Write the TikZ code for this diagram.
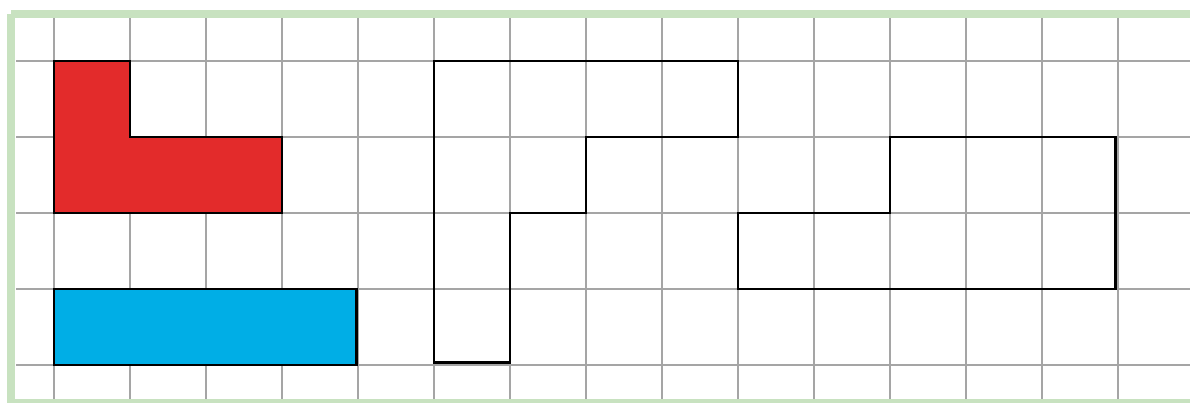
\documentclass[tikz,border=0pt]{standalone}
\definecolor{framegreen}{RGB}{200,226,192}
\definecolor{gridgray}{RGB}{165,165,165}
\definecolor{shapered}{RGB}{227,43,43}
\definecolor{shapeblue}{RGB}{0,174,230}
\tikzset{
  gridline/.style={draw=gridgray, line width=1.1pt},
  outline/.style={draw=black, line width=2.9pt, line join=miter},
  frameband/.style={draw=framegreen, line width=8pt}
}
\begin{document}
\begin{tikzpicture}[x=1pt,y=-1pt]
\useasboundingbox (0,0) rectangle (1190,402);
\begin{scope}
\clip (0,0) rectangle (1190,402);
% grid
\foreach \i in {0,...,14} {
  \draw[gridline] ({54+76*\i},17) -- ({54+76*\i},402);
}
\foreach \j in {0,...,4} {
  \draw[gridline] (16,{61+76*\j}) -- (1190,{61+76*\j});
}
% shapes
\begin{scope}[shift={(54,61)}, x=76pt, y=-76pt]
  \fill[shapered] (0,0) -- (1,0) -- (1,1) -- (3,1) -- (3,2) -- (0,2) -- cycle;
  \draw[outline] (0,0) -- (1,0) -- (1,1) -- (3,1) -- (3,2) -- (0,2) -- cycle;
  \fill[shapeblue] (0,3) rectangle (3.98,4);
  \draw[outline] (0,3) rectangle (3.98,4);
  \draw[outline] (5,0) -- (9,0) -- (9,1) -- (7,1) -- (7,2) -- (6,2) -- (6,3.97) -- (5,3.97) -- cycle;
  \draw[outline] (9,2) -- (11,2) -- (11,1) -- (13.97,1) -- (13.97,3) -- (9,3) -- cycle;
\end{scope}
% frame
\draw[frameband] (11,14) -- (1200,14);
\draw[frameband] (11,14) -- (11,402.7) -- (1200,402.7);
\end{scope}
\end{tikzpicture}
\end{document}
